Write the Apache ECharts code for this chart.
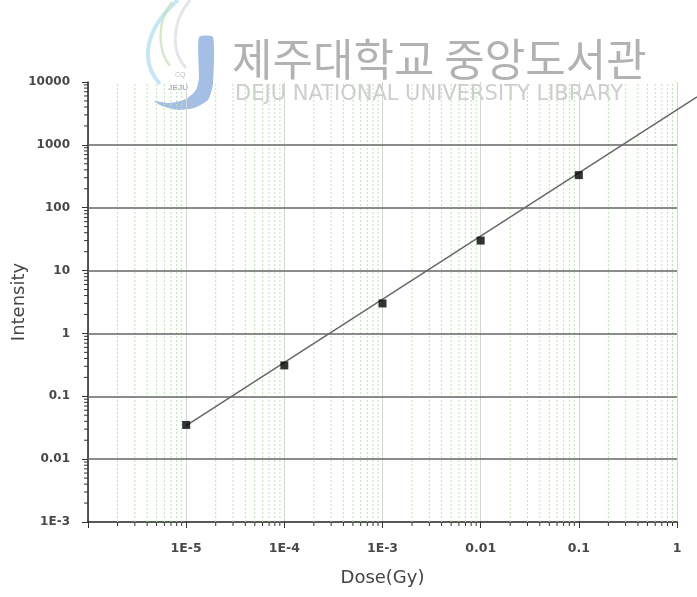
<!DOCTYPE html>
<html>
<head>
<meta charset="utf-8">
<script src="https://cdn.jsdelivr.net/npm/echarts@6/dist/echarts.min.js"></script>
<style>
html,body{margin:0;padding:0;background:#fff}
#chart{width:697px;height:597px}
</style>
</head>
<body>
<div id="chart"></div>
<script>
// Measured response vs absorbed dose
const doseGy = [1e-5, 1e-4, 1e-3, 0.01, 0.1];
const intensity = [0.035, 0.31, 3.0, 30, 330];

// Linear (log-log) fit drawn through the points, extended past the last decade
const fitDose = [1e-5, 1.6];
const fitIntensity = [0.034, 5800];

// Axis decades and their labels
const xDecades = [1e-6, 1e-5, 1e-4, 1e-3, 0.01, 0.1, 1];
const xTickLabels = ['', '1E-5', '1E-4', '1E-3', '0.01', '0.1', '1'];
const yDecades = [1e-3, 0.01, 0.1, 1, 10, 100, 1000, 10000];
const yTickLabels = ['1E-3', '0.01', '0.1', '1', '10', '100', '1000', '10000'];
const yGridValues = [0.01, 0.1, 1, 10, 100, 1000];

function labelFor(decades, labels) {
  return function (v) {
    const e = Math.round(Math.log10(v));
    for (let i = 0; i < decades.length; i++) {
      if (Math.round(Math.log10(decades[i])) === e) return labels[i];
    }
    return '';
  };
}

// 2..9 sub-decade positions for minor ticks / minor grid
function minorValues(decades) {
  const out = [];
  for (let i = 0; i < decades.length - 1; i++) {
    for (let k = 2; k <= 9; k++) out.push(k * decades[i]);
  }
  return out;
}
const xMinor = minorValues(xDecades);
const yMinor = minorValues(yDecades);

const xMin = xDecades[0], xMax = xDecades[xDecades.length - 1];
const yMin = yDecades[0], yMax = yDecades[yDecades.length - 1];

const chart = echarts.init(document.getElementById('chart'));
const labelFont = '"DejaVu Sans", "Liberation Sans", sans-serif';

chart.setOption({
  animation: false,
  backgroundColor: '#fff',
  grid: { left: 88, right: 20, top: 82, bottom: 75, containLabel: false, outerBoundsMode: 'none' },
  xAxis: {
    type: 'log',
    logBase: 10,
    min: xMin,
    max: xMax,
    name: 'Dose(Gy)',
    nameLocation: 'middle',
    nameGap: 47,
    nameMoveOverlap: false,
    nameTextStyle: { fontFamily: labelFont, fontSize: 18, color: '#444' },
    axisLine: { show: true, onZero: false, lineStyle: { color: '#222', width: 1.5 } },
    axisTick: { show: true, inside: false, length: 6, lineStyle: { color: '#333', width: 1 } },
    axisLabel: { fontFamily: labelFont, fontSize: 12.5, fontWeight: 'bold', color: '#484848', margin: 20,
      formatter: labelFor(xDecades, xTickLabels) },
    splitLine: { show: true, lineStyle: { color: '#d2d8d0', width: 1 } }
  },
  yAxis: {
    type: 'log',
    logBase: 10,
    min: yMin,
    max: yMax,
    name: 'Intensity',
    nameLocation: 'middle',
    nameGap: 60,
    nameMoveOverlap: false,
    nameTextStyle: { fontFamily: labelFont, fontSize: 18, color: '#444' },
    axisLine: { show: true, onZero: false, lineStyle: { color: '#222', width: 1.5 } },
    axisTick: { show: true, inside: false, length: 6, lineStyle: { color: '#333', width: 1 } },
    axisLabel: { fontFamily: labelFont, fontSize: 12, fontWeight: 'bold', color: '#484848', margin: 18,
      formatter: labelFor(yDecades, yTickLabels) },
    splitLine: { show: false }
  },
  series: [
    {
      // minor vertical grid + minor ticks on the dose axis
      type: 'custom',
      silent: true,
      clip: false,
      z: 1,
      data: xMinor.map(v => [v, yMin]),
      renderItem: function (params, api) {
        const v = api.value(0);
        const bottom = api.coord([v, yMin]);
        const top = api.coord([v, yMax]);
        return {
          type: 'group',
          children: [
            { type: 'line', shape: { x1: bottom[0], y1: bottom[1], x2: top[0], y2: top[1] },
              style: { stroke: '#bfe3b5', lineWidth: 1, lineDash: [2, 2] } },
            { type: 'line', shape: { x1: bottom[0], y1: bottom[1], x2: bottom[0], y2: bottom[1] + 4 },
              style: { stroke: '#333', lineWidth: 1 } }
          ]
        };
      }
    },
    {
      // minor ticks on the intensity axis
      type: 'custom',
      silent: true,
      clip: false,
      z: 1,
      data: yMinor.map(v => [xMin, v]),
      renderItem: function (params, api) {
        const p = api.coord([xMin, api.value(1)]);
        return { type: 'line', shape: { x1: p[0] - 4, y1: p[1], x2: p[0], y2: p[1] },
          style: { stroke: '#333', lineWidth: 1 } };
      }
    },
    {
      // horizontal decade grid
      type: 'line',
      data: [],
      silent: true,
      z: 2,
      markLine: {
        silent: true,
        symbol: 'none',
        label: { show: false },
        lineStyle: { color: '#666', width: 1.5, type: 'solid' },
        data: yGridValues.map(v => ({ yAxis: v }))
      }
    },
    {
      // fit line: drawn segment by segment so it may run past the axis end
      name: 'Fit',
      type: 'custom',
      silent: true,
      clip: false,
      z: 3,
      data: fitDose.map((d, i) => [d, fitIntensity[i]]),
      renderItem: function (params, api) {
        const i = params.dataIndex;
        if (i === 0) return null;
        const a = api.coord([fitDose[i - 1], fitIntensity[i - 1]]);
        const b = api.coord([api.value(0), api.value(1)]);
        return { type: 'line', shape: { x1: a[0], y1: a[1], x2: b[0], y2: b[1] },
          style: { stroke: '#666', lineWidth: 1.5 } };
      }
    },
    {
      name: 'Measured',
      type: 'scatter',
      data: doseGy.map((d, i) => [d, intensity[i]]),
      symbol: 'rect',
      symbolSize: 8,
      z: 4,
      itemStyle: { color: '#000' }
    }
  ],
  graphic: [
    // library watermark
    {
      type: 'group',
      z: 100,
      silent: true,
      children: [
        { type: 'bezierCurve', shape: { x1: 178, y1: 0, cpx1: 144, cpy1: 30, cpx2: 140, cpy2: 62, x2: 160, y2: 84 },
          style: { fill: null, stroke: '#b4def0', lineWidth: 4, opacity: 0.75 } },
        { type: 'bezierCurve', shape: { x1: 172, y1: 2, cpx1: 156, cpy1: 22, cpx2: 158, cpy2: 52, x2: 170, y2: 66 },
          style: { fill: null, stroke: '#c6e3b8', lineWidth: 2.5, opacity: 0.75 } },
        { type: 'bezierCurve', shape: { x1: 190, y1: 0, cpx1: 170, cpy1: 24, cpx2: 172, cpy2: 54, x2: 186, y2: 68 },
          style: { fill: null, stroke: '#dadde3', lineWidth: 3, opacity: 0.75 } },
        { type: 'polygon',
          shape: { points: [[199, 37], [213, 37], [213, 84], [208, 100], [194, 108], [178, 110], [162, 106], [154, 101],
                            [170, 103], [186, 99], [196, 90], [199, 78]], smooth: 0.2 },
          style: { fill: '#95b3df', opacity: 0.85 } },
        { type: 'text', x: 175, y: 72, style: { text: 'CQ', font: '7px "Liberation Sans"', fill: '#c0c0cc' } },
        { type: 'text', x: 168, y: 84, style: { text: 'JEJU', font: 'bold 8px "Liberation Sans"', fill: '#b0b0be' } },
        { type: 'text', x: 232, y: 37,
          style: { text: '제주대학교 중앙도서관', font: '44px "Noto Sans CJK KR"', fill: '#aaaaaa', opacity: 0.9 } },
        { type: 'text', x: 235, y: 84,
          style: { text: 'DEJU NATIONAL UNIVERSITY LIBRARY', font: '21px "DejaVu Sans"', fill: '#c8c8c8', opacity: 0.9 } }
      ]
    }
  ]
});
</script>
</body>
</html>
